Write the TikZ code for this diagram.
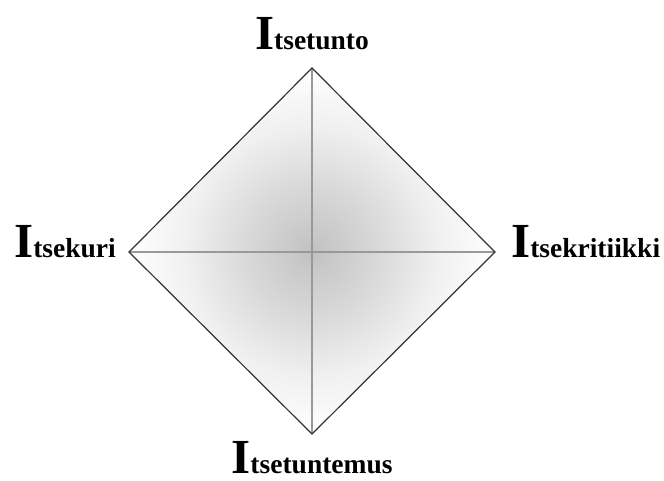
\documentclass[tikz,border=0pt]{standalone}
\usepackage{fontspec}
\setmainfont{Liberation Serif}
\usepackage{tikz}
\usetikzlibrary{positioning, calc}
\newcommand{\cornerlabel}[1]{{\fontsize{49}{49}\selectfont I}{\fontsize{27.5}{27.5}\selectfont #1}}
\pgfdeclareradialshading{diamondglow}{\pgfpoint{0bp}{0bp}}{%
  color(0bp)=(black!24); color(9bp)=(black!15); color(17bp)=(black!6); color(25bp)=(white); color(50bp)=(white)}

\begin{document}
\begin{tikzpicture}[
    x=1pt, y=-1pt,
    edge/.style={draw=black!80, line width=1.2pt, line join=miter},
    axis/.style={draw=black!40, line width=1.3pt},
    corner/.style={inner sep=0pt, font=\bfseries}
]
\useasboundingbox (0,0) rectangle (664,481);

% Corners
\coordinate (apexN) at (312,68);
\coordinate (apexS) at (312,434);
\coordinate (apexW) at (129,252);
\coordinate (apexE) at (495,252);

% Diamond
\path[shading=diamondglow]
    (apexN) -- (apexE) -- (apexS) -- (apexW) -- cycle;
\draw[axis] (apexN) -- (apexS);
\draw[axis] (apexW) -- (apexE);
\draw[edge] (apexN) -- (apexE) -- (apexS) -- (apexW) -- cycle;

% Labels
\node[corner, anchor=base] (selfesteem) at (312,50) {\cornerlabel{tsetunto}};
\node[corner, anchor=base east] (selfdiscipline) at (116,258) {\cornerlabel{tsekuri}};
\node[corner, anchor=base west] (selfcriticism) at (511,258) {\cornerlabel{tsekritiikki}};
\node[corner, anchor=base] (selfknowledge) at (312,473) {\cornerlabel{tsetuntemus}};

\end{tikzpicture}
\end{document}
